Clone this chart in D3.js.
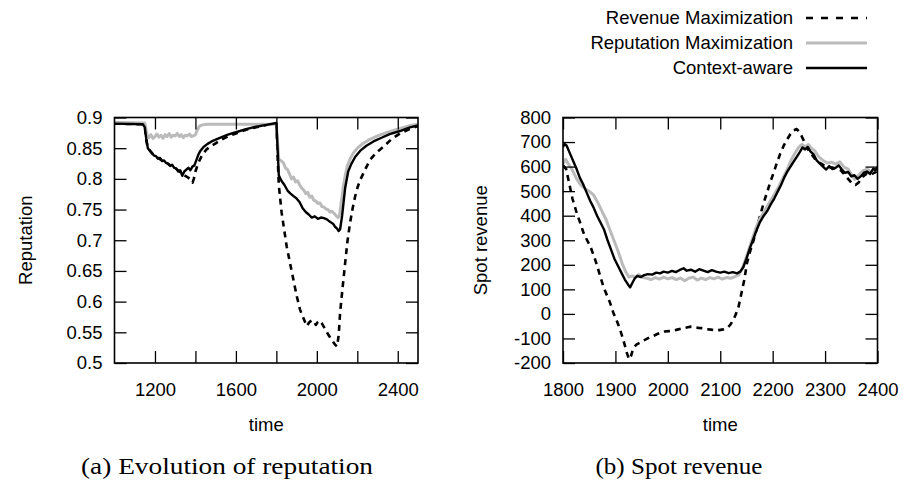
<!DOCTYPE html>
<html>
<head>
<meta charset="utf-8">
<script src="https://cdn.jsdelivr.net/npm/d3@7"></script>
<style>
  body { margin: 0; background: #fff; }
  svg { display: block; font-family: "Liberation Sans", Arial, sans-serif; }
  .caption { font-family: "Liberation Serif", "Times New Roman", serif; }
</style>
</head>
<body>
<svg id="chart" width="904" height="487"></svg>
<script>
// ---- data: (a) reputation over time ----
const repRevenue = [
  [1000,.890],[1140,.889],[1150,.884],[1158,.862],[1165,.851],[1175,.846],[1190,.840],[1210,.835],
  [1230,.831],[1250,.828],[1270,.823],[1290,.820],[1310,.815],[1330,.810],[1345,.806],[1360,.803],
  [1372,.800],[1380,.797],[1386,.794],[1392,.800],[1400,.812],[1410,.822],[1420,.830],[1435,.840],
  [1455,.848],[1480,.854],[1500,.858],[1530,.864],[1560,.869],[1600,.874],[1650,.880],[1700,.884],
  [1750,.888],[1800,.890],[1806,.840],[1812,.790],[1826,.745],[1851,.690],[1868,.662],[1884,.636],
  [1900,.610],[1917,.587],[1935,.572],[1950,.560],[1962,.566],[1975,.570],[1985,.568],[1995,.562],
  [2005,.567],[2015,.569],[2024,.565],[2040,.556],[2057,.546],[2075,.537],[2090,.530],[2100,.527],
  [2108,.545],[2115,.582],[2128,.625],[2140,.663],[2152,.700],[2164,.728],[2177,.752],[2189,.771],
  [2201,.786],[2214,.798],[2240,.816],[2263,.831],[2295,.843],[2328,.852],[2370,.865],[2411,.874],
  [2450,.880],[2500,.886]
];
const repReputation = [
  [1000,.892],[1150,.891],[1156,.880],[1162,.870],[1170,.867],[1180,.872],[1190,.866],[1200,.869],
  [1210,.873],[1220,.868],[1230,.871],[1240,.866],[1250,.872],[1260,.869],[1270,.874],[1280,.868],
  [1290,.871],[1300,.870],[1310,.874],[1320,.869],[1330,.872],[1340,.867],[1350,.871],[1360,.870],
  [1370,.873],[1380,.869],[1390,.870],[1400,.872],[1410,.880],[1420,.886],[1435,.888],[1460,.889],
  [1800,.889],[1806,.860],[1812,.832],[1825,.829],[1835,.826],[1845,.818],[1855,.815],[1865,.808],
  [1875,.800],[1885,.803],[1895,.795],[1905,.797],[1915,.790],[1925,.785],[1935,.782],[1945,.776],
  [1955,.778],[1965,.770],[1975,.772],[1985,.765],[1995,.764],[2005,.760],[2015,.761],[2025,.755],
  [2035,.754],[2045,.751],[2055,.750],[2065,.746],[2075,.747],[2085,.744],[2095,.740],[2105,.737],
  [2112,.740],[2120,.760],[2130,.785],[2140,.805],[2150,.820],[2165,.833],[2180,.842],[2200,.850],
  [2230,.858],[2260,.864],[2300,.870],[2350,.876],[2400,.881],[2450,.886],[2500,.889]
];
const repContext = [
  [1000,.890],[1140,.889],[1150,.884],[1158,.862],[1165,.850],[1175,.846],[1185,.842],[1195,.838],
  [1205,.837],[1215,.833],[1225,.834],[1235,.829],[1245,.830],[1255,.826],[1265,.825],[1275,.821],
  [1285,.823],[1295,.818],[1305,.817],[1315,.812],[1325,.814],[1335,.805],[1345,.812],[1355,.815],
  [1365,.818],[1375,.814],[1385,.820],[1395,.822],[1405,.831],[1415,.840],[1425,.846],[1440,.852],
  [1460,.857],[1480,.861],[1500,.864],[1530,.868],[1560,.872],[1600,.876],[1650,.881],[1700,.885],
  [1750,.888],[1800,.891],[1806,.850],[1812,.806],[1825,.797],[1840,.790],[1855,.781],[1870,.776],
  [1885,.772],[1900,.768],[1915,.762],[1930,.752],[1945,.746],[1960,.742],[1975,.737],[1990,.739],
  [2005,.735],[2020,.737],[2035,.736],[2050,.734],[2065,.730],[2080,.727],[2090,.722],[2100,.719],
  [2108,.715],[2115,.718],[2125,.740],[2140,.785],[2155,.812],[2170,.824],[2190,.836],[2215,.846],
  [2245,.854],[2280,.861],[2320,.867],[2360,.873],[2411,.878],[2460,.884],[2500,.887]
];

// ---- data: (b) spot revenue over time ----
const revRevenue = [
  [1800,605],[1806,590],[1812,530],[1818,470],[1826,412],[1833,370],[1839,331],[1846,300],
  [1852,276],[1860,230],[1866,190],[1871,153],[1878,105],[1884,75],[1890,44],[1896,5],
  [1903,-30],[1909,-65],[1915,-105],[1922,-160],[1926,-185],[1930,-170],[1934,-140],[1940,-125],
  [1946,-118],[1952,-110],[1958,-104],[1965,-96],[1972,-90],[1980,-82],[1987,-76],[1994,-72],
  [2002,-70],[2010,-68],[2018,-64],[2026,-60],[2034,-56],[2042,-52],[2050,-54],[2058,-57],
  [2066,-58],[2074,-62],[2082,-64],[2090,-67],[2098,-66],[2106,-63],[2113,-58],[2119,-45],
  [2125,-24],[2130,0],[2135,30],[2140,80],[2146,140],[2151,208],[2157,255],[2164,303],
  [2170,350],[2176,400],[2183,453],[2190,500],[2196,540],[2202,576],[2208,615],[2214,650],
  [2221,685],[2228,712],[2234,733],[2240,748],[2246,753],[2252,738],[2258,712],[2264,685],
  [2270,660],[2276,645],[2282,628],[2290,615],[2298,605],[2306,598],[2314,596],[2322,590],
  [2330,585],[2338,565],[2346,545],[2352,530],[2358,525],[2364,535],[2370,555],[2378,570],
  [2386,565],[2394,575],[2400,582]
];
const revReputation = [
  [1800,610],[1805,630],[1810,612],[1818,585],[1826,550],[1834,525],[1842,510],[1850,500],
  [1858,485],[1866,455],[1874,420],[1882,385],[1890,340],[1898,295],[1906,250],[1913,205],
  [1920,170],[1926,150],[1932,155],[1938,150],[1945,160],[1952,148],[1960,145],[1968,140],
  [1976,148],[1984,142],[1992,150],[2000,143],[2008,148],[2016,140],[2024,146],[2032,135],
  [2040,145],[2048,150],[2056,138],[2064,146],[2072,140],[2080,148],[2088,143],[2096,150],
  [2104,142],[2112,148],[2120,145],[2128,152],[2136,160],[2142,185],[2148,220],[2155,265],
  [2162,310],[2168,350],[2175,385],[2182,410],[2190,440],[2197,465],[2204,490],[2212,520],
  [2220,555],[2228,590],[2236,630],[2244,660],[2250,680],[2256,690],[2262,680],[2268,690],
  [2274,675],[2280,665],[2288,640],[2296,625],[2304,615],[2312,618],[2320,610],[2328,620],
  [2336,598],[2344,590],[2350,570],[2356,548],[2362,560],[2368,575],[2374,585],[2380,590],
  [2388,578],[2394,590],[2400,585]
];
const revContext = [
  [1800,680],[1803,692],[1807,685],[1813,655],[1820,620],[1826,590],[1832,555],[1838,530],
  [1845,495],[1852,460],[1858,435],[1865,400],[1872,370],[1878,345],[1885,300],[1892,260],
  [1898,225],[1905,195],[1912,165],[1918,140],[1924,120],[1928,108],[1932,125],[1937,145],
  [1942,155],[1948,150],[1955,158],[1962,162],[1970,160],[1978,168],[1985,165],[1992,172],
  [2000,168],[2008,175],[2015,170],[2022,178],[2030,186],[2036,176],[2044,180],[2052,172],
  [2060,182],[2068,176],[2076,170],[2084,178],[2092,172],[2100,168],[2108,172],[2116,166],
  [2124,170],[2132,165],[2138,172],[2144,190],[2150,225],[2157,270],[2164,310],[2170,345],
  [2176,375],[2183,400],[2190,420],[2196,445],[2203,470],[2210,500],[2216,525],[2222,555],
  [2228,580],[2234,600],[2240,620],[2246,640],[2252,660],[2257,678],[2262,670],[2267,680],
  [2272,662],[2278,650],[2284,625],[2290,612],[2296,600],[2302,588],[2308,602],[2314,590],
  [2320,595],[2326,605],[2332,588],[2338,575],[2344,578],[2350,560],[2356,565],[2362,550],
  [2368,560],[2374,575],[2380,580],[2386,570],[2392,592],[2396,585],[2400,598]
];

// ---- ticks / labels ----
const repXTicks = [1200, 1400, 1600, 1800, 2000, 2200, 2400];
const repXLabels = [1200, 1600, 2000, 2400];
const repYTicks = [0.5, 0.55, 0.6, 0.65, 0.7, 0.75, 0.8, 0.85, 0.9];
const revXTicks = [1800, 1900, 2000, 2100, 2200, 2300, 2400];
const revYTicks = [-200, -100, 0, 100, 200, 300, 400, 500, 600, 700, 800];
const seriesNames = ["Revenue Maximization", "Reputation Maximization", "Context-aware"];
const captions = ["(a) Evolution of reputation", "(b) Spot revenue"];

const styles = [
  {stroke: "#000", width: 2.6, dash: "6,5"},
  {stroke: "#bbb", width: 3, dash: null},
  {stroke: "#000", width: 2.4, dash: null}
];

const svg = d3.select("#chart");
const fontSize = 18.5;

function panel(opt) {
  const x = d3.scaleLinear().domain(opt.xDomain).range([opt.left, opt.right]);
  const y = d3.scaleLinear().domain(opt.yDomain).range([opt.bottom, opt.top]);
  const g = svg.append("g");

  g.append("clipPath").attr("id", opt.id)
    .append("rect")
      .attr("x", opt.left).attr("y", opt.top)
      .attr("width", opt.right - opt.left).attr("height", opt.bottom - opt.top);

  const line = d3.line().x(d => x(d[0])).y(d => y(d[1]));
  const lines = g.append("g").attr("clip-path", `url(#${opt.id})`);
  opt.series.forEach((s, i) => {
    lines.append("path")
      .datum(s)
      .attr("fill", "none")
      .attr("stroke", styles[i].stroke)
      .attr("stroke-width", styles[i].width)
      .attr("stroke-dasharray", styles[i].dash)
      .attr("stroke-linejoin", "round")
      .attr("d", line);
  });

  const axes = [
    [d3.axisBottom(x).tickValues(opt.xTicks).tickFormat(opt.xFormat).tickPadding(20), `translate(0,${opt.bottom})`],
    [d3.axisTop(x).tickValues(opt.xTicks).tickFormat(""), `translate(0,${opt.top})`],
    [d3.axisLeft(y).tickValues(opt.yTicks).tickFormat(opt.yFormat).tickPadding(12), `translate(${opt.left},0)`],
    [d3.axisRight(y).tickValues(opt.yTicks).tickFormat(""), `translate(${opt.right},0)`]
  ];
  axes.forEach(([ax, tr]) => {
    const a = g.append("g")
      .attr("transform", tr)
      .call(ax.tickSizeInner(-12).tickSizeOuter(0));
    a.select(".domain").remove();
    a.selectAll("line").attr("stroke", "#000").attr("stroke-width", 1.3);
    a.selectAll("text").attr("fill", "#000")
      .style("font-size", fontSize + "px")
      .style("font-family", '"Liberation Sans", Arial, sans-serif');
  });

  g.append("rect")
    .attr("x", opt.left).attr("y", opt.top)
    .attr("width", opt.right - opt.left).attr("height", opt.bottom - opt.top)
    .attr("fill", "none").attr("stroke", "#000").attr("stroke-width", 1.6);

  const cx = (opt.left + opt.right) / 2;
  g.append("text")
    .attr("x", cx).attr("y", 431)
    .attr("text-anchor", "middle")
    .style("font-size", fontSize + "px")
    .text("time");

  g.append("text")
    .attr("transform", `translate(${opt.yLabelX},${(opt.top + opt.bottom) / 2}) rotate(-90)`)
    .attr("text-anchor", "middle")
    .style("font-size", fontSize + "px")
    .text(opt.yLabel);

  g.append("text")
    .attr("class", "caption")
    .attr("x", opt.captionX).attr("y", 474)
    .attr("text-anchor", "middle")
    .attr("textLength", opt.captionW)
    .attr("lengthAdjust", "spacingAndGlyphs")
    .style("font-size", "23px")
    .text(opt.caption);
}

panel({
  id: "clipA", left: 114.5, right: 418, top: 117.5, bottom: 363,
  xDomain: [1000, 2500], yDomain: [0.5, 0.9],
  xTicks: repXTicks, xFormat: d => repXLabels.includes(d) ? d : "",
  yTicks: repYTicks, yFormat: d => String(+d.toFixed(2)),
  series: [repRevenue, repReputation, repContext],
  yLabel: "Reputation", yLabelX: 32,
  caption: captions[0], captionX: 227, captionW: 292
});

panel({
  id: "clipB", left: 563, right: 877.5, top: 117.5, bottom: 363,
  xDomain: [1800, 2400], yDomain: [-200, 800],
  xTicks: revXTicks, xFormat: d => d,
  yTicks: revYTicks, yFormat: d => d,
  series: [revRevenue, revReputation, revContext],
  yLabel: "Spot revenue", yLabelX: 487,
  caption: captions[1], captionX: 679, captionW: 167
});

// ---- legend ----
const legend = svg.append("g");
seriesNames.forEach((name, i) => {
  const yy = 18 + i * 25;
  legend.append("text")
    .attr("x", 793).attr("y", yy).attr("dy", "0.35em")
    .attr("text-anchor", "end")
    .style("font-size", fontSize + "px")
    .text(name);
  legend.append("line")
    .attr("x1", 806).attr("x2", 867).attr("y1", yy).attr("y2", yy)
    .attr("stroke", styles[i].stroke)
    .attr("stroke-width", styles[i].width)
    .attr("stroke-dasharray", i === 0 ? "7,8" : null);
});
</script>
</body>
</html>
